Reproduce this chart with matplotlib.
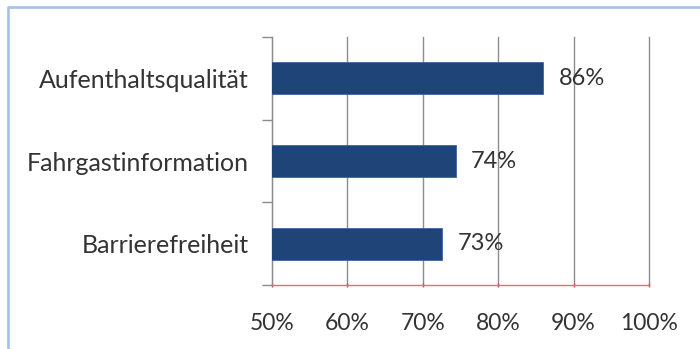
import matplotlib.pyplot as plt
from matplotlib.lines import Line2D
from matplotlib.ticker import FuncFormatter

# data (bottom to top)
categories = ["Barrierefreiheit", "Fahrgastinformation", "Aufenthaltsqualität"]
values = [72.6, 74.4, 86.0]
value_labels = ["73%", "74%", "86%"]
xticks = [50, 60, 70, 80, 90, 100]

plt.rcParams['font.family'] = ['Lato', 'DejaVu Sans']

fig = plt.figure(figsize=(7.0, 3.49), dpi=100)
ax = fig.add_axes([272/700, 1-285/349, (649-272)/700, (285-37)/349])

ypos = range(len(categories))
ax.barh(ypos, values, left=0, height=0.39, color='#1f4478',
        edgecolor='#3d64a0', linewidth=0.6, zorder=3)

for y, v, lab in zip(ypos, values, value_labels):
    ax.text(v + 2.0, y, lab, va='center', ha='left', fontsize=17, color='#333333', zorder=4)

ax.set_xlim(50, 100)
ax.set_ylim(-0.5, 2.5)
ax.set_xticks(xticks)
ax.xaxis.set_major_formatter(FuncFormatter(lambda x, p: f"{int(x)}%"))
ax.set_yticks([-0.5, 0.5, 1.5, 2.5], minor=False)
ax.set_yticklabels([])
ax.set_yticks(list(ypos), minor=True)
ax.set_yticklabels(categories, minor=True)

ax.grid(axis='x', color='#8c8c8c', linewidth=1.0, zorder=0)
for gl in ax.get_xgridlines():
    gl.set_clip_on(False)
ax.tick_params(axis='y', which='major', length=7, color='#8c8c8c', width=1.0)
ax.tick_params(axis='y', which='minor', length=0, pad=17, labelsize=18, labelcolor='#333333')
ax.tick_params(axis='x', length=3, color='#e04050', width=1.0, pad=19,
               labelsize=16.5, labelcolor='#333333', direction='inout')

for s in ['top', 'right']:
    ax.spines[s].set_visible(False)
ax.spines['left'].set_color('#8c8c8c')
ax.spines['bottom'].set_color('#e36a78')
ax.spines['bottom'].set_linewidth(1.0)

# light blue frame around the chart
fig.add_artist(Line2D([8/700, 8/700, 1.0], [0.0, 1-7/349, 1-7/349],
                      transform=fig.transFigure, color='#a9c4e8', linewidth=2))

plt.savefig('out.png', dpi=100)
